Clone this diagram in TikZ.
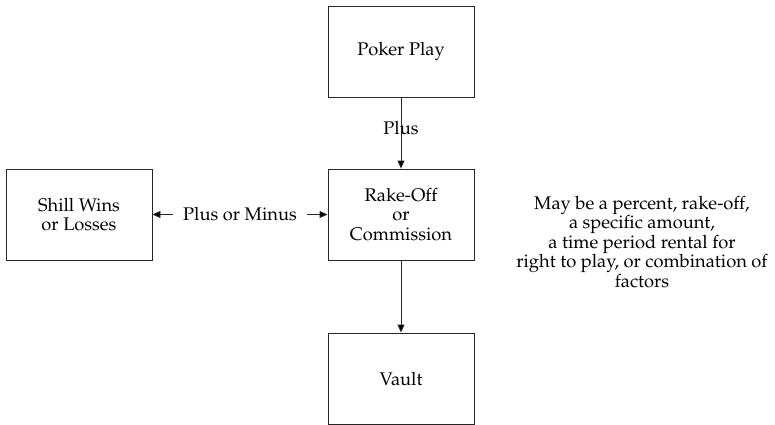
\documentclass[tikz,border=0pt]{standalone}
\usepackage[T1]{fontenc}
\renewcommand{\rmdefault}{ppl}
\usetikzlibrary{arrows.meta}
\begin{document}
\begin{tikzpicture}[x=1pt,y=-1pt,
  txt/.style={font=\fontsize{18.3}{19.5}\selectfont},
  box/.style={txt, draw=black!85, line width=0.9pt, minimum width=146pt, minimum height=91pt,
    align=center, inner sep=0pt},
  lbl/.style={txt, align=center, inner sep=2pt},
  flow/.style={draw=black!85, line width=0.9pt, -{Triangle[length=8pt,width=7pt,fill=black]}}]
  \clip (0,0) rectangle (775,424);
  \fill[white] (0,0) rectangle (775,424);
  % boxes
  \node[box] (poker) at (401,51.5) {Poker Play};
  \node[box] (rake) at (401,214.5) {Rake-Off\\or\\Commission};
  \node[box] (shill) at (79,214.5) {Shill Wins\\or Losses};
  \node[box] (vault) at (401,378.5) {Vault};
  % labels
  \node[lbl, fill=white, inner sep=4pt] (plus) at (401,128) {Plus};
  \node[lbl, inner xsep=10pt] (pm) at (240,214.5) {Plus or Minus};
  \node[lbl] (note) at (642,242) {May be a percent, rake-off,\\a specific amount,\\a time period rental for\\right to play, or combination of\\factors};
  % connectors
  \draw[flow] (poker.south) -- (rake.north);
  \draw[flow] (pm.west) -- (shill.east);
  \draw[flow] (pm.east) -- (rake.west);
  \draw[flow] (rake.south) -- (vault.north);
\end{tikzpicture}
\end{document}
